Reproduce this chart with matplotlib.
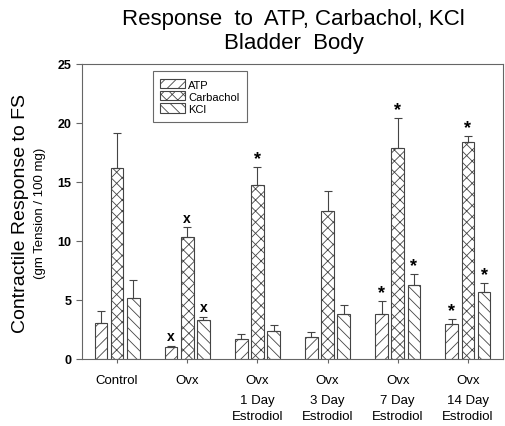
import numpy as np
import matplotlib.pyplot as plt

plt.rcParams['font.family'] = ['Liberation Sans', 'DejaVu Sans']
plt.rcParams['hatch.linewidth'] = 0.6

groups = ['Control', 'Ovx', 'Ovx', 'Ovx', 'Ovx', 'Ovx']
sublabels = ['', '', '1 Day\nEstrodiol', '3 Day\nEstrodiol', '7 Day\nEstrodiol', '14 Day\nEstrodiol']
series = ['ATP', 'Carbachol', 'KCl']

atp = [3.05, 1.04, 1.7, 1.9, 3.8, 3.0]
atp_err = [1.05, 0.08, 0.4, 0.35, 1.1, 0.4]
carb = [16.2, 10.35, 14.7, 12.5, 17.9, 18.4]
carb_err = [2.95, 0.8, 1.55, 1.7, 2.5, 0.5]
kcl = [5.2, 3.3, 2.4, 3.8, 6.3, 5.7]
kcl_err = [1.5, 0.25, 0.45, 0.8, 0.9, 0.7]

# significance marks: 'x' vs control, '*' vs ovx
atp_mark = ['', 'x', '', '', '*', '*']
carb_mark = ['', 'x', '*', '', '*', '*']
kcl_mark = ['', 'x', '', '', '*', '*']

hatches = ['///', 'xxx', '\\\\\\']

fig = plt.figure(figsize=(5.06, 4.27), dpi=100)
ax = fig.add_axes([0.162, 0.157, 0.832, 0.691])

x = np.arange(len(groups))
width = 0.18
step = 0.23
values = [atp, carb, kcl]
errors = [atp_err, carb_err, kcl_err]
marks = [atp_mark, carb_mark, kcl_mark]

for i, (vals, errs, mk, name) in enumerate(zip(values, errors, marks, series)):
    pos = x + (i - 1) * step
    ax.bar(pos, vals, width, color='white', edgecolor='#444444', linewidth=0.8,
           hatch=hatches[i], label=name)
    ax.errorbar(pos, vals, yerr=[np.zeros(len(vals)), errs], fmt='none',
                ecolor='#444444', elinewidth=0.8, capsize=3, capthick=0.8)
    for p, v, e, m in zip(pos, vals, errs, mk):
        if m == '*':
            ax.annotate('*', (p, v + e), xytext=(0, 0), textcoords='offset points',
                        ha='center', va='bottom', fontsize=13, fontweight='bold')
        elif m == 'x':
            ax.annotate('x', (p, v + e), xytext=(0, 2), textcoords='offset points',
                        ha='center', va='bottom', fontsize=10, fontweight='bold')

ax.set_xlim(-0.5, 5.5)
ax.set_ylim(0, 25)
ax.set_yticks([0, 5, 10, 15, 20, 25])
ax.set_xticks(x)
ax.set_xticklabels(groups, fontsize=9.5)
for lab in ax.get_yticklabels():
    lab.set_fontsize(9)
    lab.set_fontweight('bold')
ax.tick_params(axis='x', length=3, color='#666666', pad=8)
ax.tick_params(axis='y', length=4, color='#666666')
for s in ax.spines.values():
    s.set_color('#666666')

for xi, sub in zip(x, sublabels):
    if sub:
        ax.text(xi, -0.12, sub, transform=ax.get_xaxis_transform(), ha='center', va='top',
                fontsize=9.5, linespacing=1.45)

fig.text(0.04, 0.5, 'Contractile Response to FS', rotation=90, ha='center', va='center',
         fontsize=14)
fig.text(0.08, 0.5, '(gm Tension / 100 mg)', rotation=90, ha='center', va='center',
         fontsize=9.5)

fig.text(0.58, 0.927, 'Response  to  ATP, Carbachol, KCl\nBladder  Body', ha='center',
         va='center', fontsize=16, linespacing=1.2)

leg = ax.legend(loc='upper left', bbox_to_anchor=(0.168, 0.975), fontsize=8,
                frameon=True, fancybox=False, edgecolor='#444444', handlelength=2.2,
                handleheight=0.9, borderpad=0.7, labelspacing=0.15, handletextpad=0.3,
                borderaxespad=0)
leg.get_frame().set_linewidth(0.8)

fig.savefig('out.png', dpi=100)
